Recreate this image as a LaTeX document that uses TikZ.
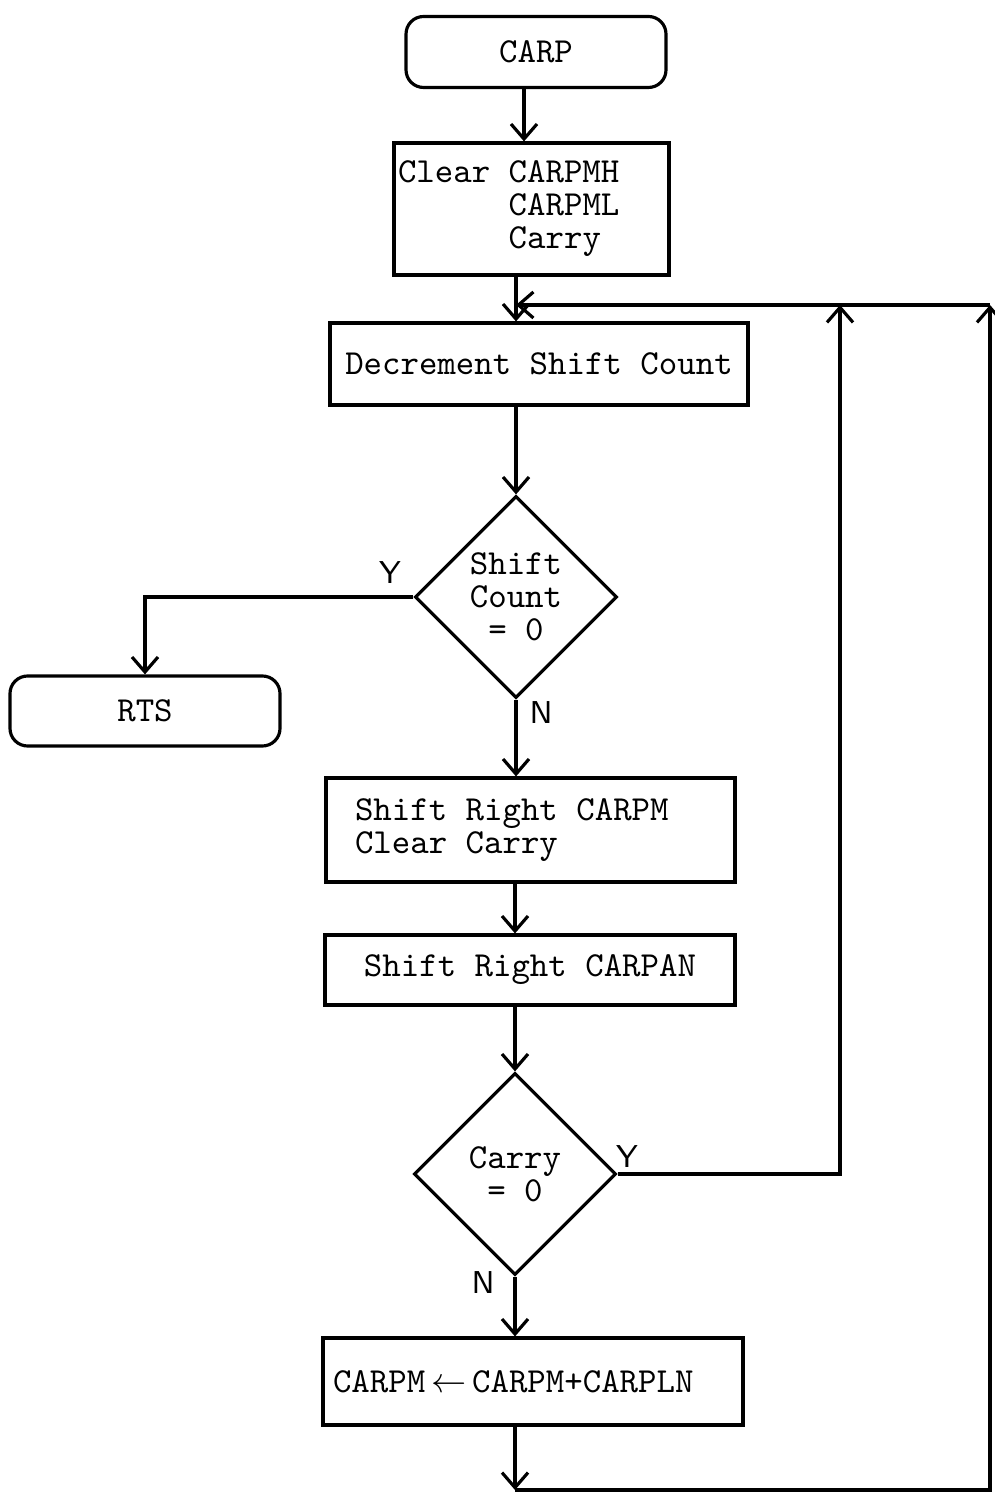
\documentclass[tikz,border=0pt]{standalone}
\usetikzlibrary{shapes.geometric,arrows.meta,positioning}
\newcommand\typespaces{\spaceskip=0.525em\relax}

\begin{document}
\begin{tikzpicture}[x=0.1mm, y=-0.1mm, line width=0.9pt,
  box/.style={draw, minimum height=0.82cm, inner sep=1pt, font=\ttfamily\fontsize{10}{9.4}\selectfont,
    execute at begin node=\typespaces},
  term/.style={box, rounded corners=5pt},
  test/.style={draw, diamond, minimum width=2.02cm, minimum height=2.02cm, inner sep=0pt, align=center, font=\ttfamily\fontsize{10}{9.4}\selectfont},
  yn/.style={font=\sffamily\small, inner sep=0pt},
  arr/.style={-{Straight Barb[length=1.5mm,width=2.6mm]}},
]
\useasboundingbox (0,0) rectangle (994,1498);

\node[term, minimum width=2.6cm, minimum height=0.71cm] (carp) at (536,52) {CARP};
\node[box, minimum height=1.32cm, text width=2.67cm, align=left, inner xsep=0.4mm] (clear) at (531.5,209) {Clear CARPMH\\\hphantom{Clear }CARPML\\\hphantom{Clear }Carry};
\node[box, minimum width=4.18cm] (dec) at (539,364) {Decrement Shift Count};
\node[test] (zero) at (516,597) {Shift\\Count\\= 0};
\node[term, minimum width=2.7cm, minimum height=0.7cm] (rts) at (145,711) {RTS};
\node[box, minimum height=1.04cm, text width=3.51cm, align=left, inner xsep=2.9mm] (shm) at (530.5,830) {Shift Right CARPM\\Clear Carry};
\node[box, minimum width=4.1cm, minimum height=0.7cm] (shan) at (530,970) {Shift Right CARPAN};
\node[test] (carry) at (515,1174) {Carry\\= 0};
\node[box, minimum height=0.87cm, text width=4cm, align=left, inner xsep=1mm] (add) at (533,1381.5) {CARPM\,$\leftarrow$\,CARPM+CARPLN};

\node[yn] (y1) at (390,573) {Y};
\node[yn] (n1) at (541,713) {N};
\node[yn] (y2) at (627,1157) {Y};
\node[yn] (n2) at (483,1283) {N};

\coordinate (spine) at (516,0);
\coordinate (loopin) at (840,305);
\coordinate (loopout) at (990,305);
\coordinate (corner) at (990,1490);

\draw[arr] ([xshift=-1.2mm]carp.south) -- ([xshift=-1.2mm]carp.south |- clear.north);
\draw[arr] (spine |- clear.south) -- (spine |- dec.north);
\draw[arr] (spine |- dec.south) -- (zero.north);
\draw[arr] (zero.west) -| (rts.north);
\draw[arr] (zero.south) -- (spine |- shm.north);
\draw[arr] (carry.north |- shm.south) -- (carry.north |- shan.north);
\draw[arr] (carry.north |- shan.south) -- (carry.north);
\draw[arr] (carry.south) -- (carry.south |- add.north);
\draw[arr] (carry.east) -| (loopin);
\draw[arr] (carry.south |- add.south) -- (carry.south |- corner);
\draw[arr] (carry.south |- corner) -- (corner) -- (loopout);
\draw[arr] (loopout) -- (spine |- loopout);
\end{tikzpicture}
\end{document}
